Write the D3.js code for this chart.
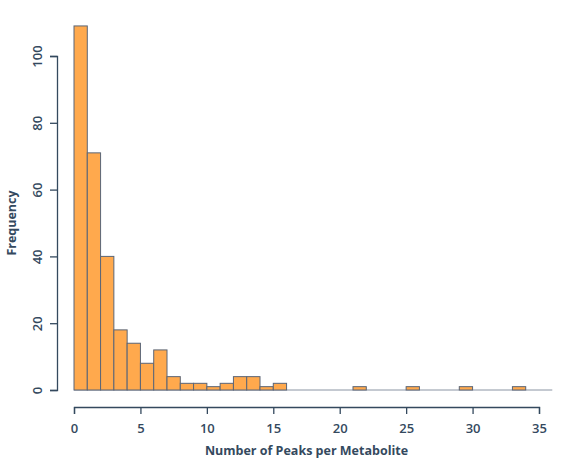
<!DOCTYPE html>
<html lang="en">
<head>
<meta charset="UTF-8">
<script src="https://d3js.org/d3.v7.min.js"></script>
<style>
  body{margin:0;background:#fff;}
  text{font-family:"Open Sans",sans-serif;fill:#34495e;}
</style>
</head>
<body>
<script>
// histogram bins (width 1) and counts
var binStarts = [0,1,2,3,4,5,6,7,8,9,10,11,12,13,14,15,21,25,29,33];
var counts    = [109,71,40,18,14,8,12,4,2,2,1,2,4,4,1,2,1,1,1,1];
var xTicks = [0,5,10,15,20,25,30,35];
var yTicks = [0,20,40,60,80,100];

var width = 564, height = 468;
var x = d3.scaleLinear().domain([0,35]).range([74,539]);
var y = d3.scaleLinear().domain([0,100]).range([390,56]);

var svg = d3.select("body").append("svg").attr("width",width).attr("height",height);

// baseline
svg.append("line").attr("x1",x(0)).attr("x2",x(36)).attr("y1",y(0)).attr("y2",y(0))
   .style("stroke","#8a94a3").style("stroke-width",1);

svg.selectAll("rect").data(binStarts).enter().append("rect")
   .attr("x",function(d){return x(d);})
   .attr("width",function(d){return x(d+1)-x(d);})
   .attr("y",function(d,i){return y(counts[i]);})
   .attr("height",function(d,i){return y(0)-y(counts[i]);})
   .style("fill","#ffa94d").style("stroke","#5a6577").style("stroke-width",1);

var xAxis = d3.axisBottom(x).tickValues(xTicks).tickSize(7).tickPadding(10);
var gx = svg.append("g").attr("transform","translate(0,407)").call(xAxis);
var yAxis = d3.axisLeft(y).tickValues(yTicks).tickSize(7).tickPadding(8);
var gy = svg.append("g").attr("transform","translate(57,0)").call(yAxis);

[gx,gy].forEach(function(g){
  g.select(".domain").style("stroke","#34495e").style("stroke-width",1.3);
  g.selectAll(".tick line").style("stroke","#34495e").style("stroke-width",1.3);
  g.selectAll(".tick text").style("font-size","13px").style("font-weight","600").style("fill","#34495e");
});
gy.selectAll(".tick text").attr("text-anchor","middle")
  .attr("transform",function(){ return "rotate(-90) translate(0,0)"; })
  .attr("x",0).attr("y",-20).attr("dy","0.35em")
  .each(function(d){ d3.select(this).attr("transform","translate(-20,0) rotate(-90)").attr("x",0).attr("y",0); });

svg.append("text").attr("x",x(17.5)).attr("y",455).attr("text-anchor","middle")
   .style("font-size","12.5px").style("font-weight","700").text("Number of Peaks per Metabolite");
svg.append("text").attr("transform","translate(16,"+y(50)+") rotate(-90)").attr("text-anchor","middle")
   .style("font-size","12.5px").style("font-weight","700").text("Frequency");
</script>
</body>
</html>
